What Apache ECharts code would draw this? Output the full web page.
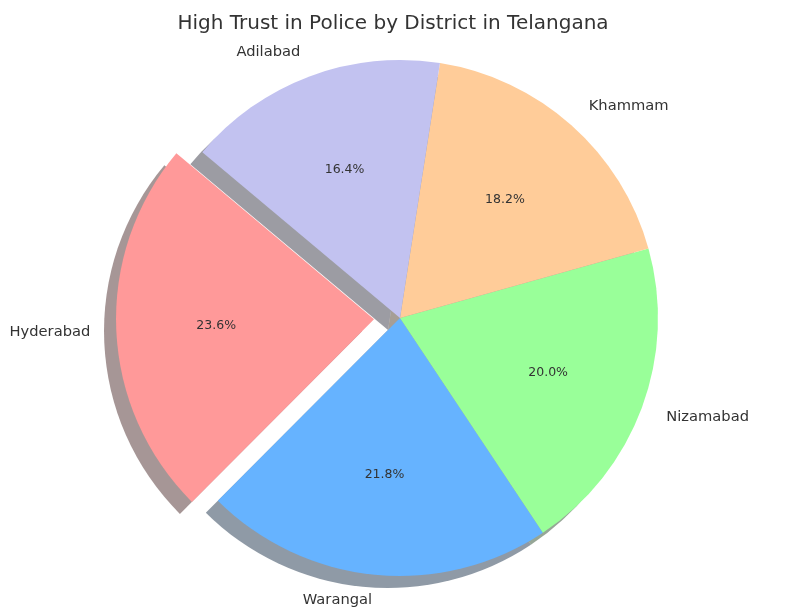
<!DOCTYPE html>
<html>
<head>
<meta charset="utf-8">
<script src="https://cdn.jsdelivr.net/npm/echarts@6/dist/echarts.min.js"></script>
<style>
  html, body { margin: 0; padding: 0; background: #fff; }
  #chart { width: 786px; height: 609px; }
</style>
</head>
<body>
<div id="chart"></div>
<script>
  // data (shares 23.6 / 21.8 / 20.0 / 18.2 / 16.4 %)
  const districts = ["Hyderabad", "Warangal", "Nizamabad", "Khammam", "Adilabad"];
  const highTrust = [65, 60, 55, 50, 45];
  const sliceColors = ["#ff9999", "#66b3ff", "#99ff99", "#ffcc99", "#c2c2f0"];
  const exploded = ["Hyderabad"];

  const CX = 400, CY = 318, R = 258;
  const OFFSET = Math.round(R * 0.1);

  // matplotlib-style shadow: colour * 0.3 at half alpha
  function shade(hex) {
    const n = parseInt(hex.slice(1), 16);
    const r = Math.round(((n >> 16) & 255) * 0.3);
    const g = Math.round(((n >> 8) & 255) * 0.3);
    const b = Math.round((n & 255) * 0.3);
    return "rgba(" + r + "," + g + "," + b + ",0.5)";
  }

  function items(colorFn) {
    return districts.map(function (name, i) {
      return {
        name: name,
        value: highTrust[i],
        selected: exploded.indexOf(name) >= 0,
        itemStyle: { color: colorFn(i) }
      };
    });
  }

  const base = {
    type: "pie",
    startAngle: 140,
    clockwise: false,
    selectedMode: "single",
    selectedOffset: OFFSET,
    avoidLabelOverlap: false,
    silent: true,
    emphasis: { disabled: true },
    animation: false
  };

  const chart = echarts.init(document.getElementById("chart"), null, { renderer: "canvas" });
  chart.setOption({
    animation: false,
    title: {
      text: "High Trust in Police by District in Telangana",
      left: "center",
      top: 9,
      textStyle: { fontFamily: "DejaVu Sans", fontSize: 20, fontWeight: "normal", color: "#333" }
    },
    series: [
      // shadow
      Object.assign({}, base, {
        center: [CX - 12, CY + 12],
        radius: [0, R],
        label: { show: false },
        labelLine: { show: false },
        data: items(function (i) { return shade(sliceColors[i]); })
      }),
      // slices + names
      Object.assign({}, base, {
        center: [CX, CY],
        radius: [0, R],
        label: {
          show: true,
          position: "outside",
          formatter: "{b}",
          distanceToLabelLine: 0,
          fontFamily: "DejaVu Sans",
          fontSize: 14.7,
          color: "#333"
        },
        labelLine: { show: false, length: OFFSET, length2: 0 },
        data: items(function (i) { return sliceColors[i]; })
      }),
      // percentages at 0.6 r
      Object.assign({}, base, {
        center: [CX, CY],
        radius: [Math.round(R * 0.2), R],
        percentPrecision: 1,
        label: {
          show: true,
          position: "inside",
          formatter: function (p) { return p.percent.toFixed(1) + "%"; },
          fontFamily: "DejaVu Sans",
          fontSize: 12.5,
          color: "#333"
        },
        labelLine: { show: false },
        data: items(function () { return "rgba(0,0,0,0)"; })
      })
    ]
  });
</script>
</body>
</html>
